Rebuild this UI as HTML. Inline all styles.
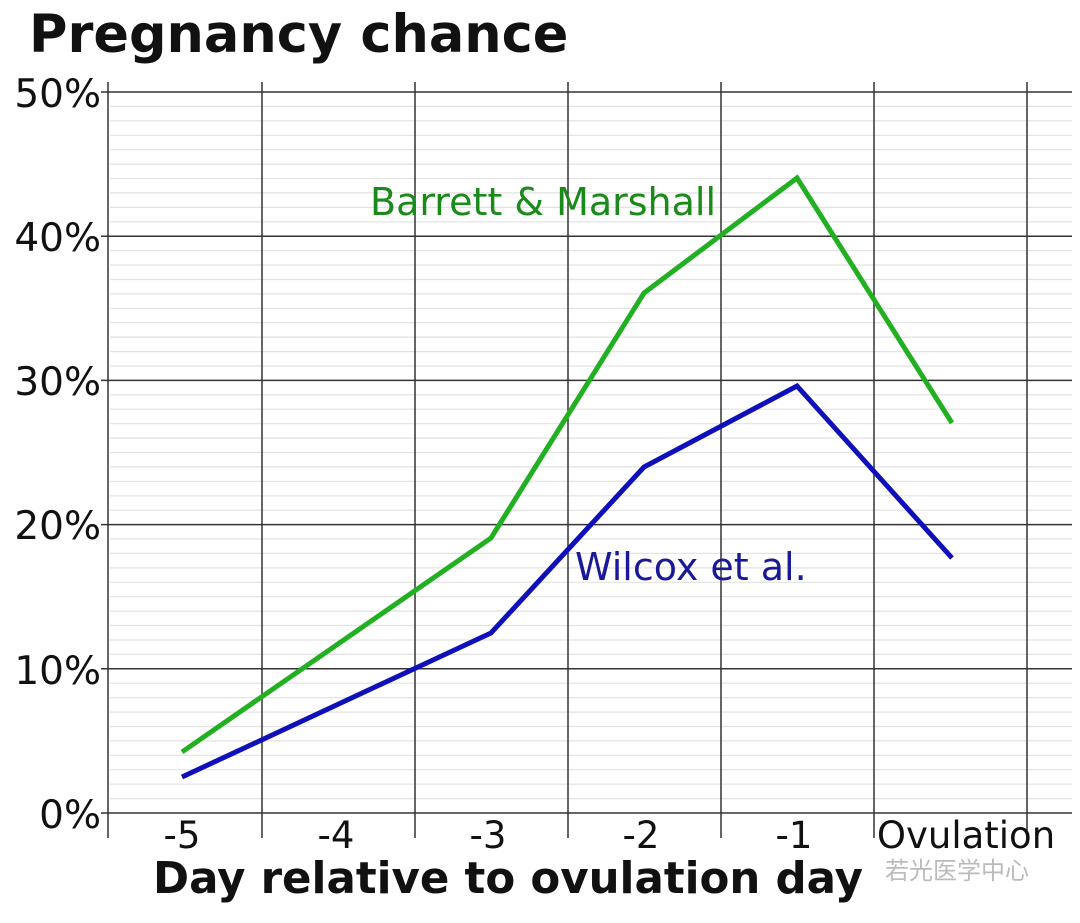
<!DOCTYPE html>
<html><head><style>
html,body{margin:0;padding:0;background:#fff;}
</style></head><body>
<svg width="1080" height="918" viewBox="0 0 1080 918" xmlns="http://www.w3.org/2000/svg" font-family="'DejaVu Sans','Liberation Sans',sans-serif">
<rect width="1080" height="918" fill="#fff"/>
<text x="29" y="52" font-size="52.5" font-weight="bold" fill="#111">Pregnancy chance</text>
<g stroke="#e2e2e2" stroke-width="1.2">
<line x1="110" x2="1072" y1="106.4" y2="106.4"/><line x1="110" x2="1072" y1="120.8" y2="120.8"/><line x1="110" x2="1072" y1="135.3" y2="135.3"/><line x1="110" x2="1072" y1="149.7" y2="149.7"/><line x1="110" x2="1072" y1="164.1" y2="164.1"/><line x1="110" x2="1072" y1="178.5" y2="178.5"/><line x1="110" x2="1072" y1="192.9" y2="192.9"/><line x1="110" x2="1072" y1="207.4" y2="207.4"/><line x1="110" x2="1072" y1="221.8" y2="221.8"/>
<line x1="110" x2="1072" y1="250.6" y2="250.6"/><line x1="110" x2="1072" y1="265.0" y2="265.0"/><line x1="110" x2="1072" y1="279.5" y2="279.5"/><line x1="110" x2="1072" y1="293.9" y2="293.9"/><line x1="110" x2="1072" y1="308.3" y2="308.3"/><line x1="110" x2="1072" y1="322.7" y2="322.7"/><line x1="110" x2="1072" y1="337.1" y2="337.1"/><line x1="110" x2="1072" y1="351.6" y2="351.6"/><line x1="110" x2="1072" y1="366.0" y2="366.0"/>
<line x1="110" x2="1072" y1="394.8" y2="394.8"/><line x1="110" x2="1072" y1="409.2" y2="409.2"/><line x1="110" x2="1072" y1="423.7" y2="423.7"/><line x1="110" x2="1072" y1="438.1" y2="438.1"/><line x1="110" x2="1072" y1="452.5" y2="452.5"/><line x1="110" x2="1072" y1="466.9" y2="466.9"/><line x1="110" x2="1072" y1="481.3" y2="481.3"/><line x1="110" x2="1072" y1="495.8" y2="495.8"/><line x1="110" x2="1072" y1="510.2" y2="510.2"/>
<line x1="110" x2="1072" y1="539.0" y2="539.0"/><line x1="110" x2="1072" y1="553.4" y2="553.4"/><line x1="110" x2="1072" y1="567.9" y2="567.9"/><line x1="110" x2="1072" y1="582.3" y2="582.3"/><line x1="110" x2="1072" y1="596.7" y2="596.7"/><line x1="110" x2="1072" y1="611.1" y2="611.1"/><line x1="110" x2="1072" y1="625.5" y2="625.5"/><line x1="110" x2="1072" y1="640.0" y2="640.0"/><line x1="110" x2="1072" y1="654.4" y2="654.4"/>
<line x1="110" x2="1072" y1="683.2" y2="683.2"/><line x1="110" x2="1072" y1="697.6" y2="697.6"/><line x1="110" x2="1072" y1="712.1" y2="712.1"/><line x1="110" x2="1072" y1="726.5" y2="726.5"/><line x1="110" x2="1072" y1="740.9" y2="740.9"/><line x1="110" x2="1072" y1="755.3" y2="755.3"/><line x1="110" x2="1072" y1="769.7" y2="769.7"/><line x1="110" x2="1072" y1="784.2" y2="784.2"/><line x1="110" x2="1072" y1="798.6" y2="798.6"/>
</g>
<g stroke="#333" stroke-width="1.5">
<line x1="101" x2="1072" y1="92" y2="92"/><line x1="101" x2="1072" y1="236.2" y2="236.2"/><line x1="101" x2="1072" y1="380.4" y2="380.4"/><line x1="101" x2="1072" y1="524.6" y2="524.6"/><line x1="101" x2="1072" y1="668.8" y2="668.8"/><line x1="101" x2="1072" y1="813" y2="813"/>
<line x1="108" x2="108" y1="82" y2="838"/><line x1="262" x2="262" y1="82" y2="838"/><line x1="415" x2="415" y1="82" y2="838"/><line x1="568" x2="568" y1="82" y2="838"/><line x1="721" x2="721" y1="82" y2="838"/><line x1="874" x2="874" y1="82" y2="838"/><line x1="1027" x2="1027" y1="82" y2="838"/>
</g>
<g font-size="39" fill="#111" text-anchor="end">
<text x="101" y="107">50%</text><text x="101" y="251">40%</text><text x="101" y="395">30%</text><text x="101" y="539">20%</text><text x="101" y="684">10%</text><text x="101" y="828">0%</text>
</g>
<g font-size="37" fill="#111" text-anchor="middle">
<text x="182" y="848">-5</text><text x="336" y="848">-4</text><text x="488" y="848">-3</text><text x="641" y="848">-2</text><text x="794" y="848">-1</text><text x="966" y="848">Ovulation</text>
</g>
<text x="508" y="893" font-size="43.5" font-weight="bold" fill="#111" text-anchor="middle">Day relative to ovulation day</text>
<text x="885" y="879" font-size="24" fill="#bbb" font-family="'Noto Sans CJK SC',sans-serif">若光医学中心</text>
<polyline points="182,752 491,538 644,293 797,178 952,423" fill="none" stroke="#22b022" stroke-width="5"/>
<polyline points="182,777 491,633 644,467 797,386 952,558" fill="none" stroke="#1010bb" stroke-width="5"/>
<text x="370" y="215" font-size="38" fill="#1a8a1a">Barrett &amp; Marshall</text>
<text x="575" y="580" font-size="38" fill="#1a1a99">Wilcox et al.</text>
</svg>
</body></html>
